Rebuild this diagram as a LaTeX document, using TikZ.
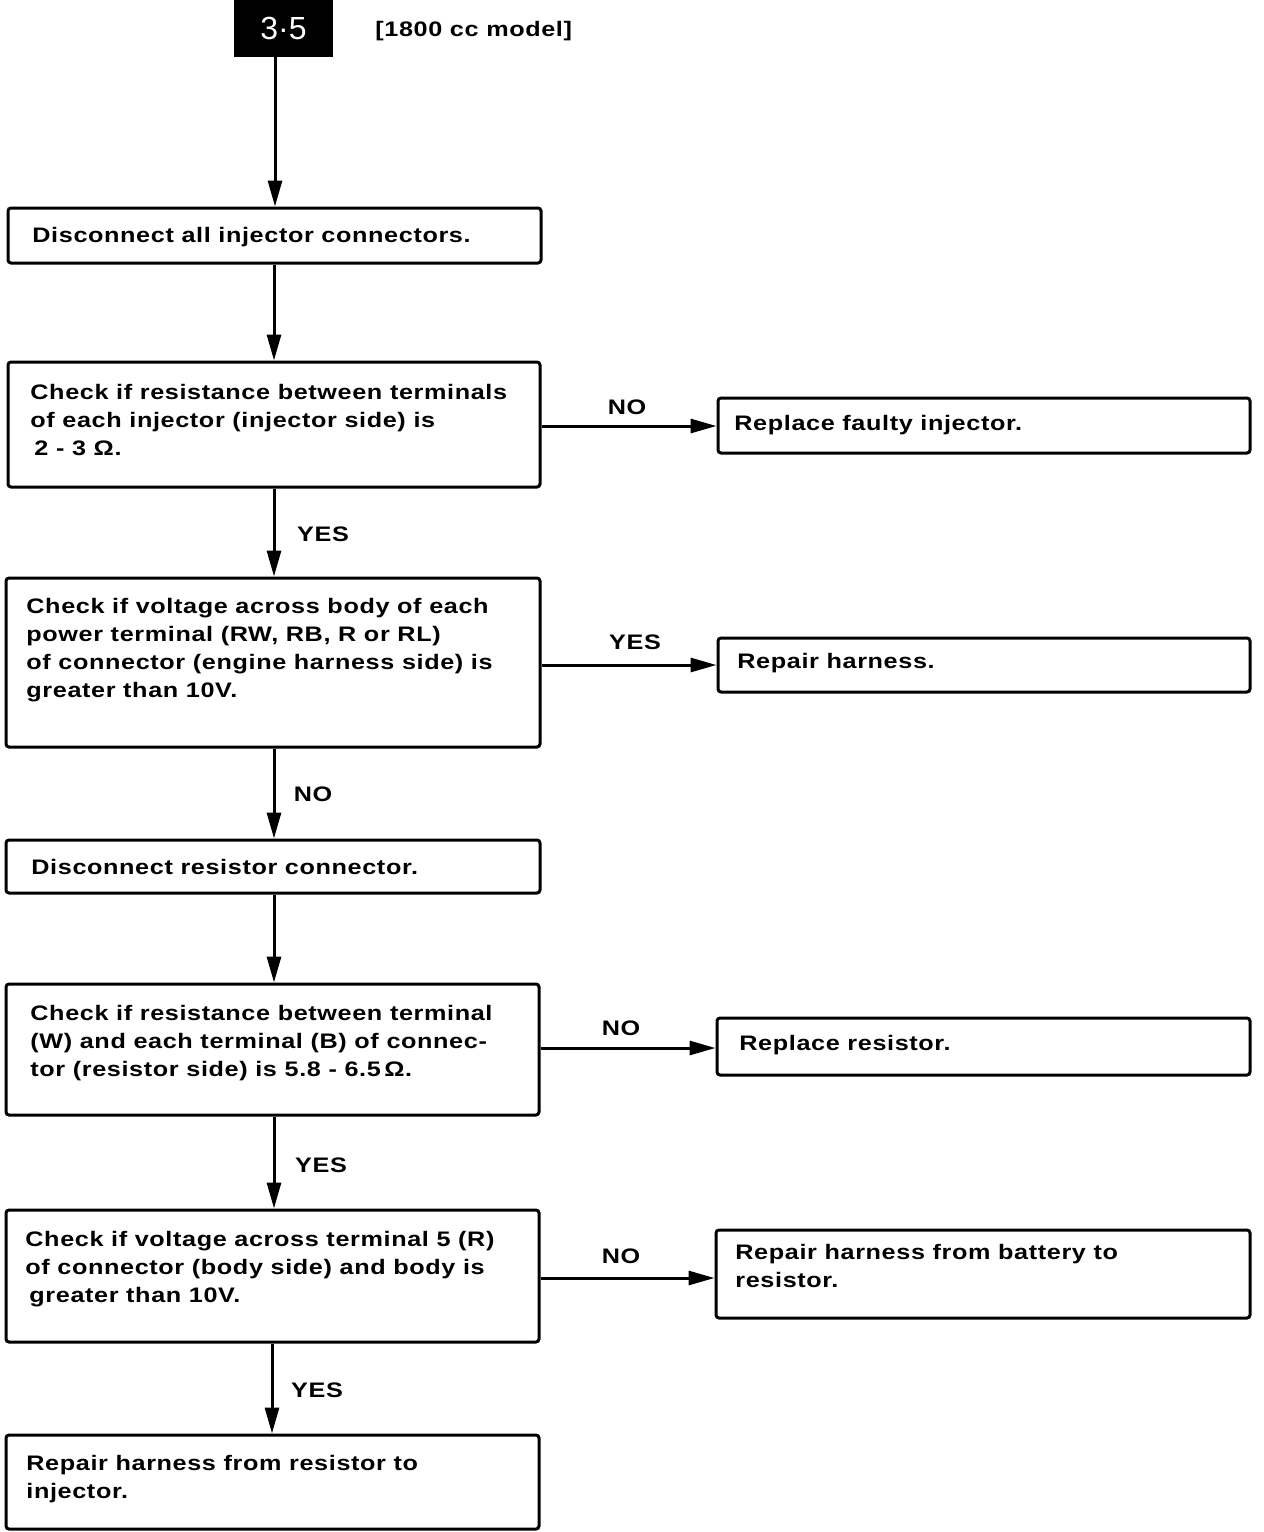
\documentclass[tikz,border=0pt]{standalone}
\usepackage{fontspec}
\setmainfont{Liberation Sans}
\newfontfamily\widefont[FakeStretch=1.2,LetterSpace=3]{Liberation Sans}
\usetikzlibrary{arrows.meta,fit}
\begin{document}
\begin{tikzpicture}[x=0.5pt,y=-0.5pt,
  box/.style={draw,line width=1.5pt,rounded corners=1.5pt,inner sep=0pt},
  txt/.style={anchor=west,align=left,inner sep=0pt,font=\widefont\fontsize{10.5}{14}\selectfont\bfseries},
  lbl/.style={inner sep=0pt,font=\widefont\fontsize{10.5}{14}\selectfont\bfseries},
  conn/.style={line width=1.5pt,-{Triangle[length=13pt,width=7pt]}},
  line/.style={line width=1.5pt}]
\useasboundingbox (0,0) rectangle (1264,1532);
% header
\node[fill=black,minimum width=49.5pt,minimum height=28.5pt,inner sep=0pt,text=white,font=\fontsize{16}{16}\selectfont] (hd) at (283.5,28.5) {3·5};
\node[lbl,anchor=west] (model) at (375,31) {[1800 cc model]};
% boxes
\node[box,fit={(8,208) (541,263)}] (b1) {};
\node[box,fit={(8,362) (540,487)}] (b2) {};
\node[box,fit={(6,578) (540,747)}] (b3) {};
\node[box,fit={(6,840) (540,893)}] (b4) {};
\node[box,fit={(6,984) (539,1115)}] (b5) {};
\node[box,fit={(6,1210) (539,1342)}] (b6) {};
\node[box,fit={(6,1435) (539,1529)}] (b7) {};
\node[box,fit={(718,398) (1250,453)}] (r1) {};
\node[box,fit={(718,638) (1250,692)}] (r2) {};
\node[box,fit={(717,1018) (1250,1075)}] (r3) {};
\node[box,fit={(716,1230) (1250,1318)}] (r4) {};
% texts
\node[txt] (t1) at (32,237) {Disconnect all injector connectors.};
\node[txt] (t2) at (30,420) {Check if resistance between terminals\\of each injector (injector side) is\\\hspace{2pt}2 - 3 Ω.};
\node[txt] (t3) at (26,650) {Check if voltage across body of each\\power terminal (RW, RB, R or RL)\\of connector (engine harness side) is\\greater than 10V.};
\node[txt] (t4) at (31,867) {Disconnect resistor connector.};
\node[txt] (t5) at (30,1043) {Check if resistance between terminal\\(W) and each terminal (B) of connec-\\tor (resistor side) is 5.8 - 6.5\,Ω.};
\node[txt] (t6) at (25,1269) {Check if voltage across terminal 5 (R)\\of connector (body side) and body is\\\hspace{2pt}greater than 10V.};
\node[txt] (t7) at (26,1479) {Repair harness from resistor to\\injector.};
\node[txt] (tr1) at (734,425) {Replace faulty injector.};
\node[txt] (tr2) at (737,663) {Repair harness.};
\node[txt] (tr3) at (739,1045) {Replace resistor.};
\node[txt] (tr4) at (735,1266) {Repair harness from battery to\\resistor.};
% labels
\node[lbl] (l1) at (627,407) {NO};
\node[lbl] (l2) at (323,534) {YES};
\node[lbl] (l3) at (635,642) {YES};
\node[lbl] (l4) at (313,794) {NO};
\node[lbl] (l5) at (621,1028) {NO};
\node[lbl] (l6) at (321,1165) {YES};
\node[lbl] (l7) at (621,1256) {NO};
\node[lbl] (l8) at (317,1390) {YES};
% connectors
\draw[conn] (hd.south -| 275,0) -- (b1.north -| 275,0);
\draw[conn] (b1.south -| 274,0) -- (b2.north -| 274,0);
\draw[conn] (b2.south -| 274,0) -- (b3.north -| 274,0);
\draw[conn] (b3.south -| 274,0) -- (b4.north -| 274,0);
\draw[conn] (b4.south -| 274,0) -- (b5.north -| 274,0);
\draw[conn] (b5.south -| 274,0) -- (b6.north -| 274,0);
\draw[conn] (b6.south -| 272,0) -- (b7.north -| 272,0);
\draw[conn] (b2.east |- 0,426) -- (r1.west |- 0,426);
\draw[conn] (b3.east |- 0,665) -- (r2.west |- 0,665);
\draw[conn] (b5.east |- 0,1048) -- (r3.west |- 0,1048);
\draw[conn] (b6.east |- 0,1278) -- (r4.west |- 0,1278);
\end{tikzpicture}
\end{document}
